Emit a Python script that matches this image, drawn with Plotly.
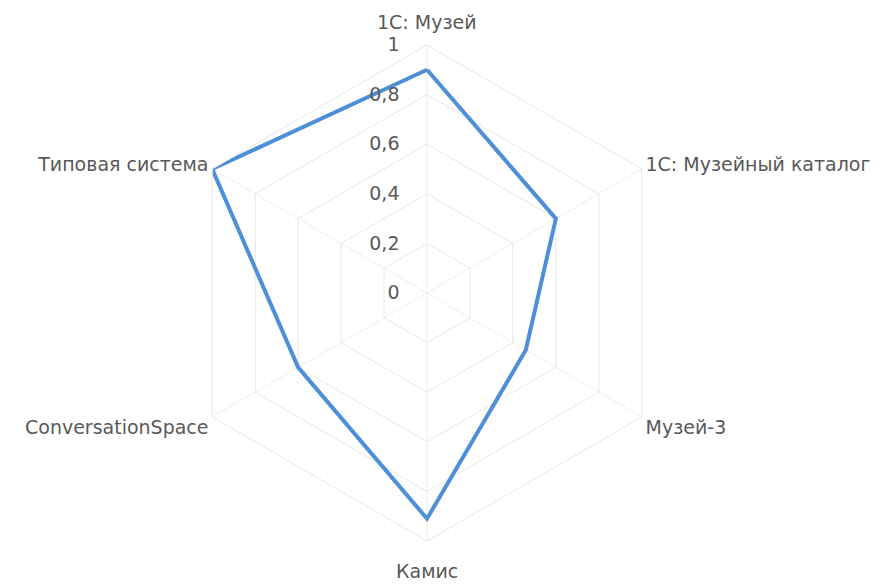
import plotly.graph_objects as go

# categories, clockwise from top
categories = ["1С: Музей", "1С: Музейный каталог", "Музей-3",
              "Камис", "ConversationSpace", "Типовая система"]
values = [0.9, 0.6, 0.46, 0.91, 0.6, 1.0]
radial_ticks = [0, 0.2, 0.4, 0.6, 0.8, 1]
radial_labels = ["0", "0,2", "0,4", "0,6", "0,8", "1"]

fig = go.Figure()
fig.add_trace(go.Scatterpolar(
    r=values + values[:1],
    theta=categories + categories[:1],
    mode="lines",
    line=dict(color="#4f8fd8", width=4),
    hoverinfo="r+theta",
))

# page body has an 8px margin, so these are figure coords (screen - 8)
cx, cy, R = 419, 285, 248
W, H = 885, 585

# top and bottom category names sit further out than plotly puts them,
# so those two are drawn as annotations
angular_text = ["" if c in (categories[0], categories[3]) else c for c in categories]

fig.update_layout(
    width=W, height=H,
    margin=dict(l=0, r=0, t=0, b=0),
    paper_bgcolor="white",
    showlegend=False,
    font=dict(family="DejaVu Sans, sans-serif", size=19, color="#595959"),
    polar=dict(
        domain=dict(x=[(cx - R) / W, (cx + R) / W],
                    y=[(H - cy - R) / H, (H - cy + R) / H]),
        gridshape="linear",
        bgcolor="white",
        radialaxis=dict(
            range=[0, 1],
            tickvals=radial_ticks,
            ticktext=[t + "    " for t in radial_labels],
            angle=90,
            tickangle=90,
            side="counterclockwise",
            showline=False,
            ticks="",
            gridcolor="#e6e6e6",
            gridwidth=1,
            tickfont=dict(size=19, color="#595959"),
        ),
        angularaxis=dict(
            direction="clockwise",
            rotation=90,
            tickvals=categories,
            ticktext=angular_text,
            showline=True,
            linecolor="#e6e6e6",
            linewidth=1,
            ticks="",
            gridcolor="#eeeeee",
            tickfont=dict(size=19, color="#595959"),
        ),
    ),
    annotations=[
        dict(text=categories[0], x=419 / W, y=1 - 14 / H, xref="paper", yref="paper",
             showarrow=False, xanchor="center", yanchor="middle",
             font=dict(size=19, color="#595959")),
        dict(text=categories[3], x=419 / W, y=1 - 563 / H, xref="paper", yref="paper",
             showarrow=False, xanchor="center", yanchor="middle",
             font=dict(size=19, color="#595959")),
    ],
)

fig.write_html("out.html")
